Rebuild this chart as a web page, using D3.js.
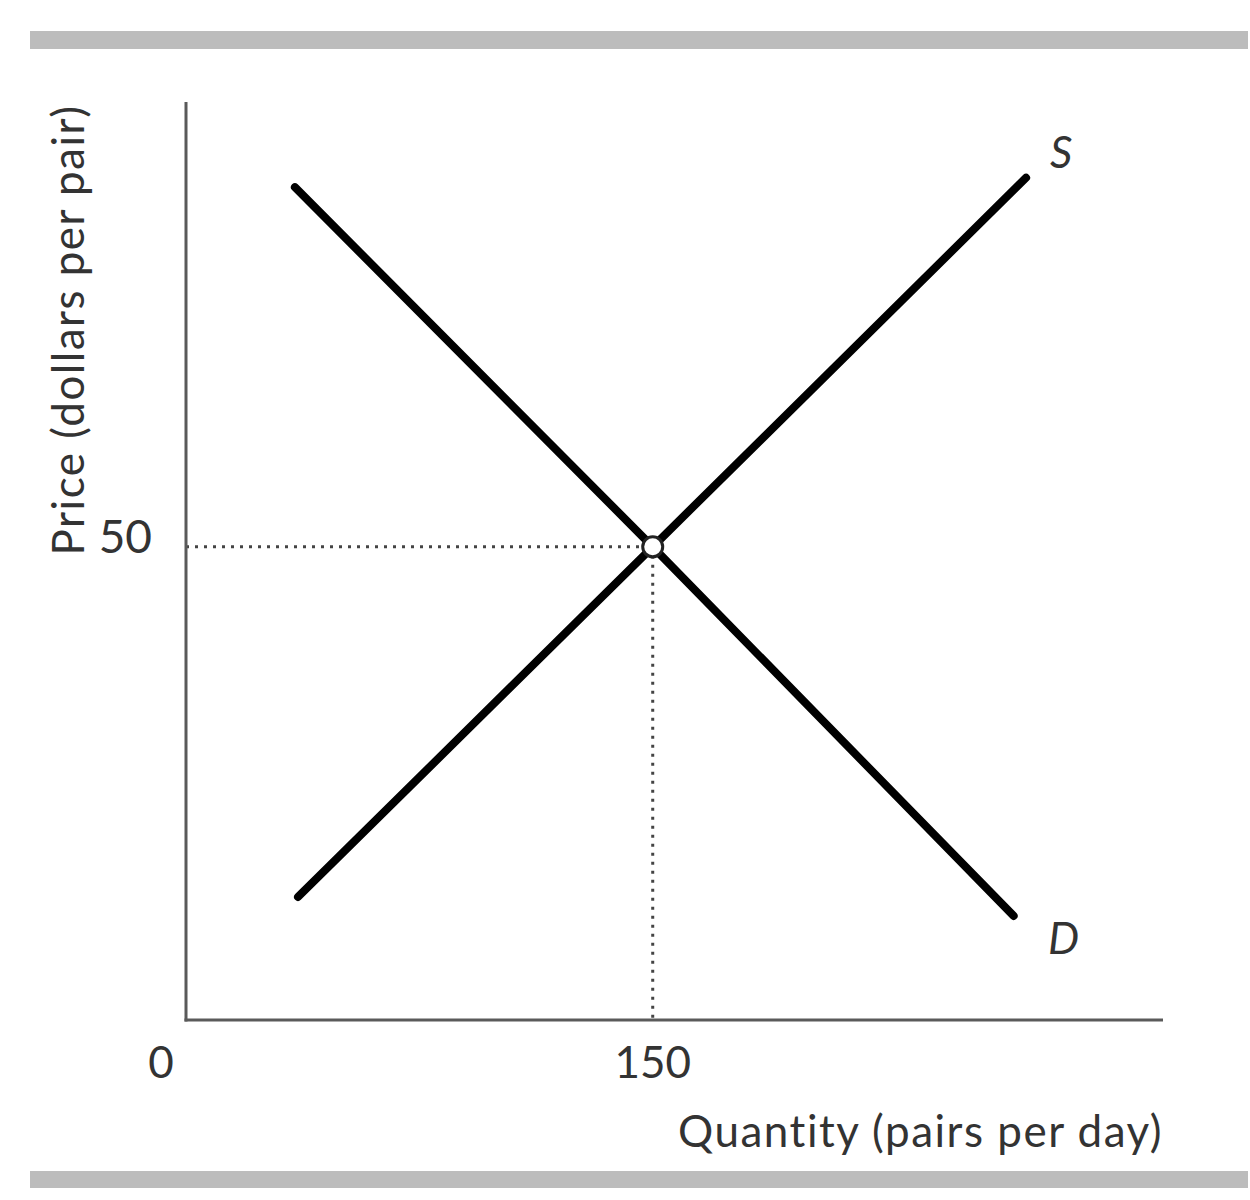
<!DOCTYPE html>
<html><head><meta charset="utf-8">
<script src="https://cdn.jsdelivr.net/npm/d3@7"></script>
<style>body{margin:0;background:#fff;} svg{display:block;}</style>
</head><body>
<svg id="chart" width="1250" height="1200"></svg>
<script>
const supplyQ = [36, 150, 270];
const supplyP = [13, 50, 89];
const demandQ = [35, 150, 266];
const demandP = [88, 50, 11];
const eqQ = 150, eqP = 50;
const xTicks = [0, 150];
const yTicks = [50];
const xLabel = "Quantity (pairs per day)";
const yLabel = "Price (dollars per pair)";

const svg = d3.select("#chart");
const font = "Lato, 'Open Sans', sans-serif";
const x = d3.scaleLinear().domain([0, 314]).range([186, 1163]);
const y = d3.scaleLinear().domain([0, 97]).range([1020, 102]);

// frame bars
svg.append("rect").attr("x",30).attr("y",31).attr("width",1218).attr("height",18).attr("fill","#bcbcbc");
svg.append("rect").attr("x",30).attr("y",1171).attr("width",1218).attr("height",17).attr("fill","#bcbcbc");

// dotted guide lines
svg.append("line").attr("x1",x(0)).attr("x2",x(eqQ)).attr("y1",y(eqP)).attr("y2",y(eqP))
  .attr("stroke","#444").attr("stroke-width",3).attr("stroke-dasharray","3,6");
svg.append("line").attr("x1",x(eqQ)).attr("x2",x(eqQ)).attr("y1",y(eqP)).attr("y2",y(0))
  .attr("stroke","#444").attr("stroke-width",3).attr("stroke-dasharray","3,6");

// axes
svg.append("line").attr("x1",x(0)).attr("x2",x(0)).attr("y1",y(97)).attr("y2",y(0)+1.5)
  .attr("stroke","#5a5a5a").attr("stroke-width",3);
svg.append("line").attr("x1",x(0)-1.5).attr("x2",x(314)).attr("y1",y(0)).attr("y2",y(0))
  .attr("stroke","#5a5a5a").attr("stroke-width",3);

// curves
const line = d3.line().x(d=>x(d[0])).y(d=>y(d[1]));
svg.append("path").datum(supplyQ.map((q,i)=>[q,supplyP[i]])).attr("d",line)
  .attr("fill","none").attr("stroke","#000").attr("stroke-width",8).attr("stroke-linecap","round");
svg.append("path").datum(demandQ.map((q,i)=>[q,demandP[i]])).attr("d",line)
  .attr("fill","none").attr("stroke","#000").attr("stroke-width",8).attr("stroke-linecap","round");

// equilibrium point
svg.append("circle").attr("cx",x(eqQ)).attr("cy",y(eqP)).attr("r",10)
  .attr("fill","#fff").attr("stroke","#222").attr("stroke-width",3);

// curve labels
svg.append("text").attr("x",x(supplyQ[2])+35).attr("y",y(supplyP[2])-10)
  .attr("font-family",font).attr("font-style","italic").attr("font-size",44).attr("fill","#333")
  .attr("text-anchor","middle").text("S");
svg.append("text").attr("x",x(demandQ[2])+50).attr("y",y(demandP[2])+38)
  .attr("font-family",font).attr("font-style","italic").attr("font-size",44).attr("fill","#333")
  .attr("text-anchor","middle").text("D");

// tick labels
svg.selectAll(".xt").data(xTicks).enter().append("text")
  .attr("x",d=> d===0 ? x(d)-25 : x(d)).attr("y",1078)
  .attr("font-family",font).attr("font-size",44).attr("fill","#333")
  .attr("text-anchor","middle").text(d=>d);
svg.selectAll(".yt").data(yTicks).enter().append("text")
  .attr("x",152).attr("y",d=>y(d)+6)
  .attr("font-family",font).attr("font-size",46).attr("fill","#333")
  .attr("text-anchor","end").text(d=>d);

// axis labels
svg.append("text").attr("x",1163).attr("y",1147)
  .attr("font-family",font).attr("font-size",44).attr("letter-spacing",1.5).attr("fill","#333")
  .attr("text-anchor","end").text(xLabel);
svg.append("text").attr("transform","translate(84,330) rotate(-90)")
  .attr("font-family",font).attr("font-size",44).attr("letter-spacing",1.5).attr("fill","#333")
  .attr("text-anchor","middle").text(yLabel);
</script>
</body></html>
